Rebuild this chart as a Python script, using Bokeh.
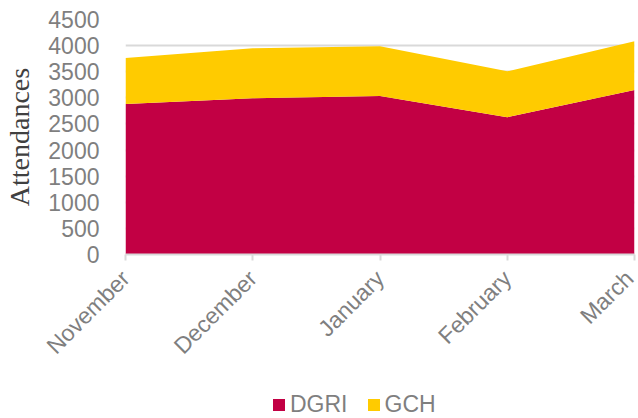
import math
from bokeh.plotting import figure
from bokeh.layouts import column
from bokeh.models import Range1d, FixedTicker, Legend, LegendItem, ColumnDataSource
from bokeh.embed import file_html
from bokeh.resources import INLINE

months = ["November", "December", "January", "February", "March"]
dgri = [2884, 2991, 3037, 2628, 3152]
gch = [881, 957, 950, 880, 930]
y_ticks = [0, 500, 1000, 1500, 2000, 2500, 3000, 3500, 4000, 4500]
series = ["DGRI", "GCH"]
colors = ["#C20044", "#FFCB00"]

x = list(range(len(months)))
src = ColumnDataSource(dict(x=x, DGRI=dgri, GCH=gch))

p = figure(width=638, height=371, output_backend="svg", toolbar_location=None,
           x_range=Range1d(0, len(months) - 1), y_range=Range1d(0, 4500),
           min_border_left=125, min_border_top=19, min_border_right=4, min_border_bottom=117)
p.outline_line_color = None

rs = p.varea_stack(series, x="x", source=src, color=colors)

gray = "#7f7f7f"
p.xaxis.ticker = FixedTicker(ticks=x)
p.xaxis.major_label_overrides = {i: m for i, m in enumerate(months)}
p.xaxis.major_label_orientation = math.pi / 4
p.xaxis.axis_line_color = "#d9d9d9"
p.xaxis.axis_line_width = 2
p.xaxis.major_tick_line_color = "#d9d9d9"
p.xaxis.major_tick_line_width = 2
p.xaxis.major_tick_out = 6
p.xaxis.major_tick_in = 0
p.xaxis.minor_tick_line_color = None
p.xaxis.major_label_text_font = "Liberation Sans"
p.xaxis.major_label_text_font_size = "23px"
p.xaxis.major_label_text_color = gray
p.xaxis.major_label_standoff = 14

p.yaxis.ticker = FixedTicker(ticks=y_ticks)
p.yaxis.axis_line_color = None
p.yaxis.major_tick_line_color = None
p.yaxis.minor_tick_line_color = None
p.yaxis.major_label_text_font = "Liberation Sans"
p.yaxis.major_label_text_font_size = "23px"
p.yaxis.major_label_text_color = gray
p.yaxis.major_label_standoff = 20
p.yaxis.axis_label = "Attendances"
p.yaxis.axis_label_text_font = "Liberation Serif"
p.yaxis.axis_label_text_font_style = "normal"
p.yaxis.axis_label_text_font_size = "28px"
p.yaxis.axis_label_text_color = "#404040"
p.yaxis.axis_label_standoff = 10

p.xgrid.grid_line_color = None
p.ygrid.grid_line_color = "#d9d9d9"
p.ygrid.grid_line_width = 2

# legend in its own strip below the chart (its areas lie outside its view)
pl = figure(width=638, height=47, output_backend="svg", toolbar_location=None,
            x_range=Range1d(0, len(months) - 1), y_range=Range1d(-2, -1),
            min_border_left=0, min_border_right=0, min_border_top=0, min_border_bottom=0)
pl.outline_line_color = None
pl.xaxis.visible = False
pl.yaxis.visible = False
pl.grid.visible = False
leg_r = pl.varea_stack(series, x="x", source=src, color=colors)
legend = Legend(items=[LegendItem(label=s, renderers=[r]) for s, r in zip(series, leg_r)],
                orientation="horizontal", location=(146, 0),
                label_text_font="Liberation Sans", label_text_font_size="23px",
                label_text_color=gray, glyph_width=15, glyph_height=15,
                label_standoff=4, spacing=18, border_line_color=None,
                background_fill_alpha=0, padding=0)
pl.add_layout(legend, "center")

open("out.html", "w").write(file_html(column(p, pl, spacing=0), INLINE))
